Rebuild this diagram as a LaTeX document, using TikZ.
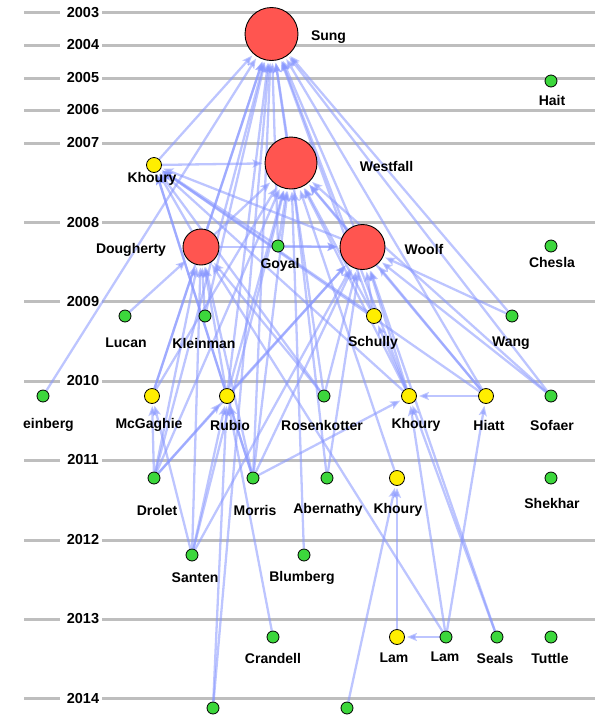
\documentclass[tikz,border=0pt]{standalone}
\usepackage{fontspec}
\setmainfont{Liberation Sans}
\usetikzlibrary{arrows.meta}
\definecolor{edgeblue}{RGB}{135,150,255}
\definecolor{nodered}{RGB}{255,85,80}
\definecolor{nodeyel}{RGB}{255,238,0}
\definecolor{nodegrn}{RGB}{60,215,60}
\definecolor{gridgray}{RGB}{190,190,190}
\pgfdeclarelayer{grid}
\pgfdeclarelayer{edges}
\pgfsetlayers{grid,edges,main}
\tikzset{
  gridline/.style={draw=gridgray,line width=3pt},
  yearlbl/.style={font=\fontsize{14.5}{16}\selectfont\bfseries,inner sep=0pt},
  lbl/.style={font=\fontsize{14}{15}\selectfont\bfseries,inner sep=0pt},
  bigred/.style={circle,draw=black,line width=0.9pt,fill=nodered,inner sep=0pt},
  yel/.style={circle,draw=black,line width=0.8pt,fill=nodeyel,inner sep=0pt,minimum size=15pt},
  grn/.style={circle,draw=black,line width=0.8pt,fill=nodegrn,inner sep=0pt,minimum size=12pt},
  edge/.style={draw=edgeblue,line width=2.3pt,opacity=0.55,shorten >=2pt,
    -{Stealth[length=10pt,width=8pt,inset=2pt]}}
}
\begin{document}
\begin{tikzpicture}[x=1pt,y=-1pt]
\useasboundingbox (0,0) rectangle (595,716);
% year grid
\begin{pgfonlayer}{grid}
\foreach \yr/\yy in {2003/12.5,2004/45,2005/78,2006/110,2007/143,2008/222.5,2009/301.5,2010/381,2011/460,2012/540,2013/619,2014/698}{
  \draw[gridline] (24,\yy) -- (60,\yy);
  \draw[gridline] (102,\yy) -- (595,\yy);
  \node[yearlbl] (y\yr) at (83,\yy) {\yr};
}
\end{pgfonlayer}
% nodes
\node[bigred,minimum size=53pt] (sung) at (271.5,34) {};
\node[bigred,minimum size=52pt] (westfall) at (291,163) {};
\node[bigred,minimum size=36pt] (dough) at (201,247) {};
\node[bigred,minimum size=45pt] (woolf) at (362.5,247) {};
\node[grn] (hait) at (551,81) {};
\node[yel] (kh07) at (154,165) {};
\node[grn] (goyal) at (278,246) {};
\node[grn] (chesla) at (551,246) {};
\node[grn] (lucan) at (125,316) {};
\node[grn] (klein) at (205,316) {};
\node[yel] (schully) at (374,316) {};
\node[grn] (wang) at (512,316) {};
\node[grn] (wein) at (43,396) {};
\node[yel] (mcg) at (152,396) {};
\node[yel] (rubio) at (227,396) {};
\node[grn] (rosen) at (324,396) {};
\node[yel] (kh10) at (409,396) {};
\node[yel] (hiatt) at (486,396) {};
\node[grn] (sofaer) at (551,396) {};
\node[grn] (drolet) at (154,478) {};
\node[grn] (morris) at (253,478) {};
\node[grn] (aber) at (327,478) {};
\node[yel] (kh11) at (397,478) {};
\node[grn] (shekhar) at (551,478) {};
\node[grn] (santen) at (192,555) {};
\node[grn] (blum) at (304,555) {};
\node[grn] (crand) at (273,637) {};
\node[yel] (lamy) at (397,637) {};
\node[grn] (lamg) at (446,637) {};
\node[grn] (seals) at (497,637) {};
\node[grn] (tuttle) at (551,637) {};
\node[grn] (bot1) at (213,708) {};
\node[grn] (bot2) at (347,708) {};
% labels
\node[lbl] (lsung) at (328.5,37) {Sung};
\node[lbl] (lwestfall) at (386.5,166) {Westfall};
\node[lbl] (ldough) at (131,249.5) {Dougherty};
\node[lbl] (lwoolf) at (424,249) {Woolf};
\node[lbl] (lhait) at (552,100) {Hait};
\node[lbl] (lkh07) at (152,179) {Khoury};
\node[lbl] (lgoyal) at (280,265) {Goyal};
\node[lbl] (lchesla) at (552,262) {Chesla};
\node[lbl] (llucan) at (126,343) {Lucan};
\node[lbl] (lklein) at (204,343) {Kleinman};
\node[lbl] (lschully) at (373,343) {Schully};
\node[lbl] (lwang) at (511,343) {Wang};
\node[lbl,anchor=west] (lwein) at (23,425) {einberg};
\node[lbl] (lmcg) at (149,425) {McGaghie};
\node[lbl] (lrubio) at (230,425) {Rubio};
\node[lbl] (lrosen) at (322,425) {Rosenkotter};
\node[lbl] (lkh10) at (416,425) {Khoury};
\node[lbl] (lhiatt) at (489,425) {Hiatt};
\node[lbl] (lsofaer) at (552,425) {Sofaer};
\node[lbl] (ldrolet) at (157,510) {Drolet};
\node[lbl] (lmorris) at (255,510) {Morris};
\node[lbl] (laber) at (328,510) {Abernathy};
\node[lbl] (lkh11) at (398,510) {Khoury};
\node[lbl] (lshekhar) at (552,503) {Shekhar};
\node[lbl] (lsanten) at (195,578) {Santen};
\node[lbl] (lblum) at (302,578) {Blumberg};
\node[lbl] (lcrand) at (273,658) {Crandell};
\node[lbl] (llamy) at (394,658) {Lam};
\node[lbl] (llamg) at (445,656.5) {Lam};
\node[lbl] (lseals) at (495,658) {Seals};
\node[lbl] (ltuttle) at (550,658) {Tuttle};
% edges
\begin{pgfonlayer}{edges}
\foreach \s in {kh07,wein,dough,goyal,westfall,woolf,mcg,drolet,rubio,klein,morris,schully,kh10,hiatt,wang,sofaer,rosen,bot1}
  \draw[edge] (\s) -- (sung);
\foreach \s in {kh07,dough,goyal,woolf,rubio,drolet,santen,blum,morris,schully,kh10,hiatt,sofaer,aber,mcg,kh11}
  \draw[edge] (\s) -- (westfall);
\foreach \s in {lucan,klein,mcg,rubio,drolet,santen,morris,lamg,rosen}
  \draw[edge] (\s) -- (dough);
\foreach \s in {dough,goyal,schully,kh10,hiatt,wang,sofaer,rubio,drolet,morris,seals,aber,santen,rosen}
  \draw[edge] (\s) -- (woolf);
\foreach \s in {dough,goyal,woolf,schully,rosen,kh10,rubio,hiatt,morris}
  \draw[edge] (\s) -- (kh07);
\foreach \s/\t in {kh10/schully,hiatt/kh10,morris/kh10,lamg/kh10,seals/kh10,lamg/hiatt,lamy/kh11,bot2/kh11,lamg/lamy,santen/mcg,drolet/mcg,drolet/rubio,santen/rubio,crand/rubio,bot1/rubio,morris/rubio}
  \draw[edge] (\s) -- (\t);
\end{pgfonlayer}
\end{tikzpicture}
\end{document}
